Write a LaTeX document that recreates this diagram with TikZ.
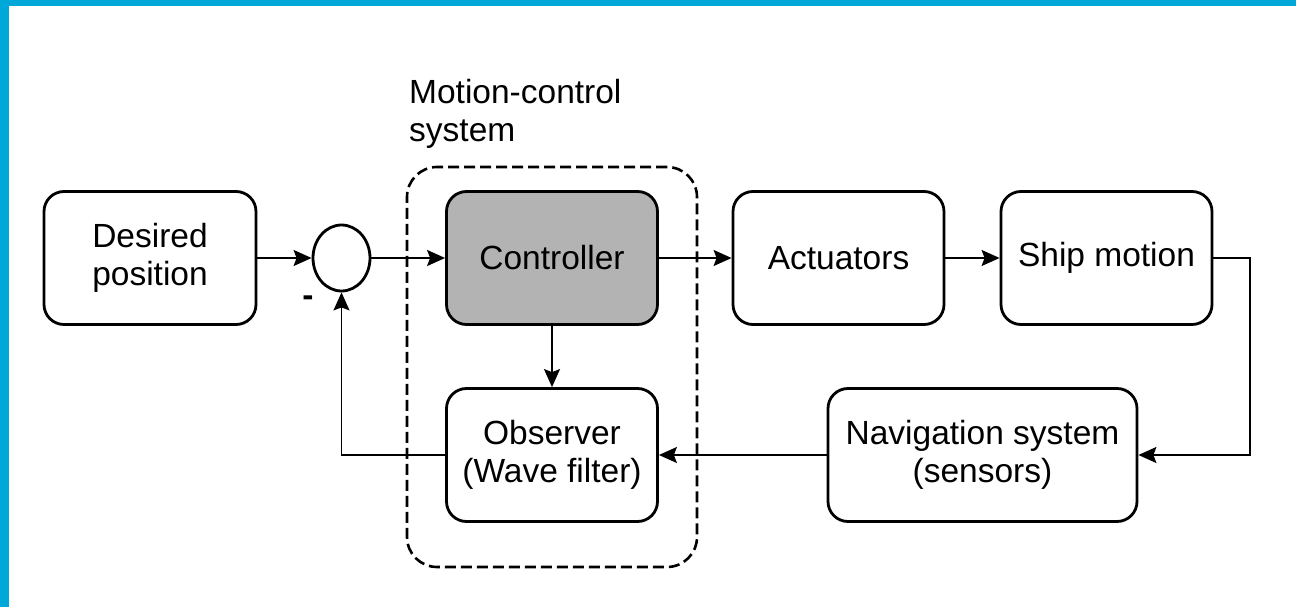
\documentclass[tikz,border=0pt]{standalone}
\usepackage{fontspec}
\setmainfont{Liberation Sans}
\usetikzlibrary{arrows.meta,shapes.geometric}
\definecolor{frameblue}{HTML}{00A8DA}
\definecolor{ctrlgray}{HTML}{B3B3B3}
\begin{document}
\begin{tikzpicture}[x=1pt,y=-1pt,
  txt/.style={font=\fontsize{33.5}{38}\selectfont},
  block/.style={txt, draw, line width=2.8pt, rounded corners=20pt, inner sep=0pt,
    align=center, minimum width=211pt, minimum height=133pt},
  link/.style={line width=1.7pt, -{Stealth[length=18pt,width=16pt,inset=3pt]}}]
\useasboundingbox (0,0) rectangle (1296,607);
% page background and the blue frame edges
\fill[white] (0,0) rectangle (1296,607);
\fill[frameblue] (0,0) rectangle (1296,6);
\fill[frameblue] (0,0) rectangle (9,607);

% motion-control system enclosure
\node[draw, dashed, dash pattern=on 11pt off 5pt, line width=2.6pt, rounded corners=30pt,
  minimum width=290pt, minimum height=400pt, inner sep=0pt] (mcs) at (552,367) {};
\node[txt, anchor=north west, align=left, inner sep=0pt] (mcslabel) at (409,79)
  {Motion-control\\system};

% blocks
\node[block, minimum width=212pt] (desired) at (150,258) {Desired\\position};
\node[draw, ellipse, line width=2.8pt, minimum width=57pt, minimum height=66pt,
  inner sep=0pt] (sum) at (341.5,258) {};
\node[txt, inner sep=0pt, font=\bfseries\fontsize{33.5}{38}\selectfont] (minus) at (308,301) {-};
\node[block, fill=ctrlgray] (ctrl) at (552,258) {Controller};
\node[block] (act) at (838.5,258) {Actuators};
\node[block] (ship) at (1106.5,258) {Ship motion};
\node[block] (obs) at (552,455) {Observer\\(Wave filter)};
\node[block, minimum width=309pt] (nav) at (982.5,455) {Navigation system\\(sensors)};

% signal flow
\coordinate (turn) at (1250,258);
\draw[link] (desired) -- (sum);
\draw[link] (sum) -- (ctrl);
\draw[link] (ctrl) -- (act);
\draw[link] (act) -- (ship);
\draw[link] (ship.east) -- (turn) |- (nav.east);
\draw[link] (nav) -- (obs);
\draw[link] (ctrl) -- (obs);
\draw[link] (obs.west) -| (sum.south);
\end{tikzpicture}
\end{document}
